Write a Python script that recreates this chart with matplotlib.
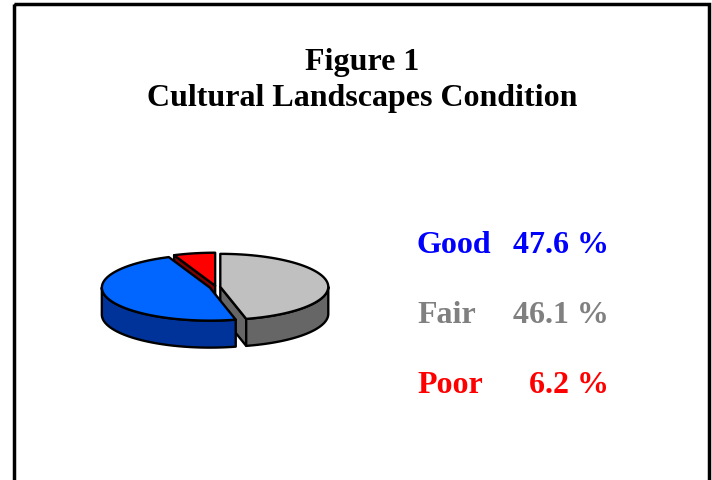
import numpy as np
import matplotlib.pyplot as plt
from matplotlib.patches import Rectangle, Polygon

labels = ["Good", "Fair", "Poor"]
shares = [47.6, 46.1, 6.2]
top_colors = ["#0066ff", "#c0c0c0", "#ff0000"]
side_colors = ["#003399", "#666666", "#800000"]
text_colors = ["#0000ff", "#808080", "#ff0000"]
explode = [0.06, 0.04, 0.04]
pie_order = [2, 0, 1]  # counter-clockwise from 12 o'clock

plt.rcParams['font.family'] = ['Liberation Serif', 'DejaVu Serif']

fig = plt.figure(figsize=(7.12, 4.8), dpi=100)
ax = fig.add_axes([0, 0, 1, 1])
ax.set_xlim(0, 712)
ax.set_ylim(480, 0)
ax.axis('off')

# 3d-ish pie geometry (pixels)
cx, cy, a, b, depth = 216, 287, 108, 33, 27


def pt(c, th, dz=0):
    r = np.radians(th)
    return c[0] + a * np.cos(r), c[1] - b * np.sin(r) + dz


def arc(c, t1, t2, dz=0, n=60):
    ts = np.linspace(t1, t2, n)
    return [pt(c, t, dz) for t in ts]


total = sum(shares)
slices = []
th = 90.0
for i in pie_order:
    span = 360.0 * shares[i] / total
    t1, t2 = th, th + span
    mid = np.radians((t1 + t2) / 2)
    c = (cx + explode[i] * a * np.cos(mid), cy - explode[i] * b * np.sin(mid))
    slices.append((i, t1, t2, c, np.sin(mid)))
    th = t2

# back to front
slices.sort(key=lambda s: -s[4])

for i, t1, t2, c, _ in slices:
    kw = dict(edgecolor="black", linewidth=1.7, joinstyle="round")
    # cut faces
    for edge, normal in ((t1, t1 - 90), (t2, t2 + 90)):
        if np.sin(np.radians(normal)) < -1e-6:
            p = pt(c, edge)
            face = [c, p, (p[0], p[1] + depth), (c[0], c[1] + depth)]
            ax.add_patch(Polygon(face, closed=True, facecolor=side_colors[i], **kw))
    # outer side (front half only)
    for k in range(-1, 2):
        lo, hi = max(t1, 180 + 360 * k), min(t2, 360 + 360 * k)
        if hi > lo:
            top = arc(c, lo, hi)
            bot = arc(c, hi, lo, depth)
            ax.add_patch(Polygon(top + bot, closed=True, facecolor=side_colors[i], **kw))
    # top face
    ax.add_patch(Polygon([c] + arc(c, t1, t2), closed=True, facecolor=top_colors[i], **kw))

# frame
ax.add_patch(Rectangle((14, 4), 695, 520, fill=False, edgecolor="black", linewidth=2.5, clip_on=False))

ax.text(362, 70, "Figure 1", ha="center", va="baseline", fontsize=23, fontweight="bold")
ax.text(362, 106, "Cultural Landscapes Condition", ha="center", va="baseline", fontsize=23, fontweight="bold")

for j, (lab, val, col) in enumerate(zip(labels, shares, text_colors)):
    y = 253 + 70 * j
    ax.text(417, y, lab, ha="left", va="baseline", fontsize=23, fontweight="bold", color=col)
    ax.text(609, y, f"{val} %", ha="right", va="baseline", fontsize=23, fontweight="bold", color=col)

fig.savefig("out.png", dpi=100)
